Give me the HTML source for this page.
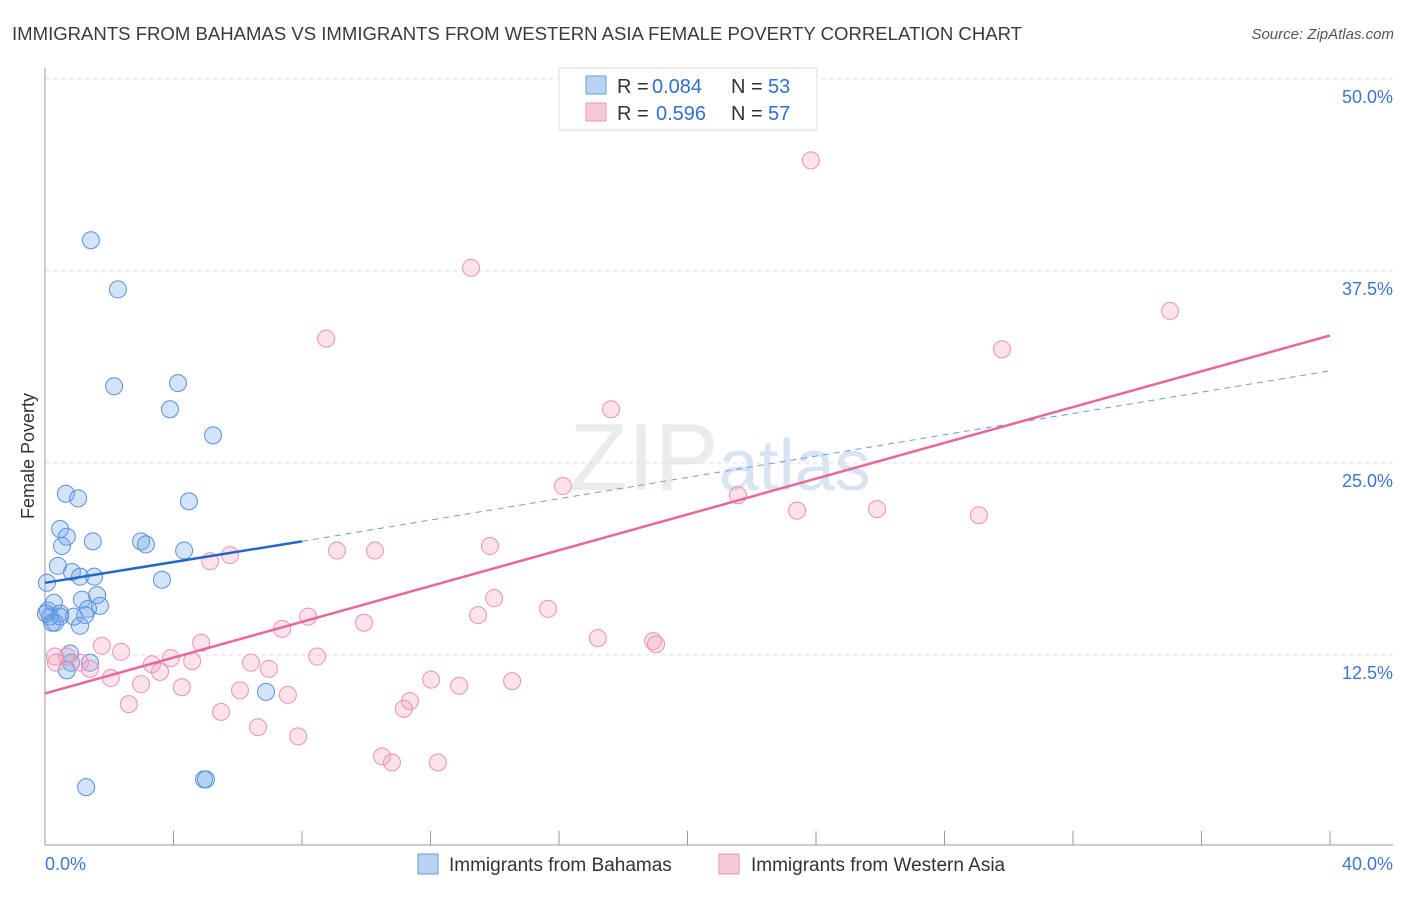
<!DOCTYPE html>
<html><head><meta charset="utf-8"><style>
body{margin:0;background:#fff;font-family:"Liberation Sans",sans-serif}
svg text{font-family:"Liberation Sans",sans-serif}
</style></head><body>
<svg id="c" width="1406" height="892">
<text x="12" y="40" font-size="18" fill="#3a3a3a" textLength="1010" lengthAdjust="spacingAndGlyphs">IMMIGRANTS FROM BAHAMAS VS IMMIGRANTS FROM WESTERN ASIA FEMALE POVERTY CORRELATION CHART</text>
<text x="1394" y="39" font-size="15" fill="#555" font-style="italic" text-anchor="end">Source: ZipAtlas.com</text>
<text x="720" y="490" font-size="96" fill="#ccc" fill-opacity="0.4" text-anchor="middle" font-family="Liberation Serif">ZIP<tspan fill="#9bbbe0" font-family="Liberation Sans" font-size="72">atlas</tspan></text>
<text transform="translate(34,456) rotate(-90)" font-size="18" fill="#333" text-anchor="middle">Female Poverty</text>
<g id="grid"></g><g id="pts"></g><g id="lines"></g>
<g>
<rect x="559" y="68" width="258" height="62" fill="#fff" stroke="#ddd"/>
<rect x="586" y="76" width="20" height="18" fill="#b8d2f4" stroke="#6a9ae0"/>
<rect x="586" y="103" width="20" height="18" fill="#f9c8d8" stroke="#eb92b0"/>
<g font-size="20" fill="#333">
<text x="617" y="93">R =</text><text x="652" y="93" fill="#2f6fd0">0.084</text><text x="731" y="93">N =</text><text x="768" y="93" fill="#2f6fd0">53</text></g>
<g font-size="20" fill="#333">
<text x="617" y="120">R =</text><text x="656" y="120" fill="#2f6fd0">0.596</text><text x="731" y="120">N =</text><text x="768" y="120" fill="#2f6fd0">57</text></g>
</g>
<g>
<rect x="418" y="854" width="20" height="20" fill="#b8d2f4" stroke="#6a9ae0"/>
<text x="449" y="871" font-size="19" fill="#333">Immigrants from Bahamas</text>
<rect x="719" y="854" width="20" height="20" fill="#f9c8d8" stroke="#eb92b0"/>
<text x="751" y="871" font-size="19" fill="#333">Immigrants from Western Asia</text>
</g>
<text x="45" y="870" font-size="18" fill="#3a78d0">0.0%</text>
<text x="1393" y="870" font-size="18" fill="#3a78d0" text-anchor="end">40.0%</text>
</svg>
<script>
const yTicks=[12.5,25,37.5,50];
const yTickLabels=["12.5%","25.0%","37.5%","50.0%"];
const blueX=[1.43,2.27,2.15,4.14,3.89,5.23,0.65,1.03,4.48,0.47,0.68,0.53,1.49,2.99,3.14,4.33,0.40,0.84,1.09,1.53,3.64,0.06,0.28,1.62,1.15,0.09,0.47,1.34,1.71,0.16,0.90,1.25,0.22,1.09,0.78,0.81,0.68,1.40,6.88,1.28,4.95,5.01,0.03,0.31,0.47];
const blueY=[39.5,36.3,30.0,30.2,28.5,26.8,23.0,22.7,22.5,20.7,20.2,19.6,19.9,19.9,19.7,19.3,18.3,17.9,17.6,17.6,17.4,17.2,15.9,16.4,16.1,15.4,15.2,15.5,15.7,15.0,15.0,15.1,14.6,14.4,12.6,12.0,11.5,12.0,10.1,3.9,4.4,4.4,15.2,14.6,15.0];
const pinkX=[23.84,13.26,8.75,35.02,29.79,17.62,16.12,21.57,23.41,25.90,29.07,13.85,9.09,10.27,5.76,5.14,13.98,15.66,8.19,13.48,9.93,7.38,17.21,18.93,19.02,4.86,1.77,2.37,8.47,3.33,3.92,4.58,6.41,1.09,0.68,0.34,3.58,6.97,2.05,12.02,14.54,12.89,2.99,4.26,6.07,7.56,11.36,11.17,2.61,5.48,6.63,7.88,10.49,10.80,12.23,0.31,1.40];
const pinkY=[44.7,37.7,33.1,34.9,32.4,28.5,23.5,22.9,21.9,22.0,21.6,19.6,19.3,19.3,19.0,18.6,16.2,15.5,15.0,15.1,14.6,14.2,13.6,13.4,13.2,13.3,13.1,12.7,12.4,11.9,12.3,12.1,12.0,12.0,12.4,12.0,11.4,11.6,11.0,10.9,10.8,10.5,10.6,10.4,10.2,9.9,9.5,9.0,9.3,8.8,7.8,7.2,5.9,5.5,5.5,12.4,11.6];
const blueTrend=[[0,17.2],[8,19.9]];
const blueDash=[[8,19.9],[40,31.0]];
const pinkTrend=[[0,10.0],[40,33.3]];
const xs=v=>45+v*32.125, ys=v=>847-v*15.36;
const NS="http://www.w3.org/2000/svg";
function mk(t,a,p){const e=document.createElementNS(NS,t);for(const k in a)e.setAttribute(k,a[k]);p.appendChild(e);return e;}
const g=document.getElementById('grid');
yTicks.forEach((t,i)=>{
 const l=mk('line',{x1:45,x2:1393,y1:ys(t),y2:ys(t),stroke:'#ddd','stroke-dasharray':'4,4'},g);
 
 
 const tx=mk('text',{x:1393,y:ys(t)+24,'font-size':18,fill:'#3a78d0','text-anchor':'end'},g);
 tx.textContent=yTickLabels[i];
 
 
});
const ax=mk('line',{x1:45,x2:45,y1:68,y2:845,stroke:'#999'},g);


const bx=mk('line',{x1:45,x2:1393,y1:845,y2:845,stroke:'#999'},g);


for(let i=0;i<=10;i++){const t=mk('line',{x1:xs(i*4),x2:xs(i*4),y1:831,y2:845,stroke:'#999'},g);
 
 }
const pg=document.getElementById('pts');
blueX.forEach((x,i)=>{const c=mk('circle',{cx:xs(x),cy:ys(blueY[i]),r:8.5,fill:'rgba(110,165,235,0.3)',stroke:'#5b90dc','stroke-width':1},pg);
 
 });
pinkX.forEach((x,i)=>{const c=mk('circle',{cx:xs(x),cy:ys(pinkY[i]),r:8.5,fill:'rgba(245,160,190,0.3)',stroke:'#eb92b0','stroke-width':1},pg);
 
 });
const lg=document.getElementById('lines');
function ln(p,st,w,d,n){const l=mk('line',{x1:xs(p[0][0]),y1:ys(p[0][1]),x2:xs(p[1][0]),y2:ys(p[1][1]),stroke:st,'stroke-width':w},lg);if(d)l.setAttribute('stroke-dasharray',d);
 
 }
ln(blueDash,'#6a9ae0',1,'6,5','bahamas-trend-extension');
ln(blueTrend,'#2266cc',2.5,null,'bahamas-trend');
ln(pinkTrend,'#e8689a',2.5,null,'western-asia-trend');
</script>
</body></html>
